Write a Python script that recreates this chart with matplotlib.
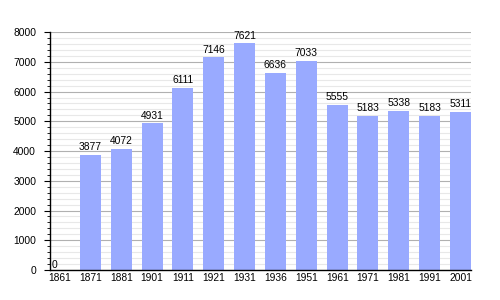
import matplotlib
matplotlib.use("Agg")
import matplotlib.pyplot as plt
from matplotlib.ticker import MultipleLocator

plt.rcParams['font.family'] = ['Liberation Sans', 'DejaVu Sans']

# Einwohner je Zaehlungsjahr
jahre = ['1861', '1871', '1881', '1901', '1911', '1921', '1931',
         '1936', '1951', '1961', '1971', '1981', '1991', '2001']
einwohner = [0, 3877, 4072, 4931, 6111, 7146, 7621,
             6636, 7033, 5555, 5183, 5338, 5183, 5311]

fig = plt.figure(figsize=(5, 3), dpi=100)
ax = fig.add_axes([0.1, 0.1, 0.842, 0.793])

x = range(len(jahre))
ax.bar(x, einwohner, width=0.68, color='#99aaff', zorder=2)

for i, v in enumerate(einwohner):
    if v == 0:
        ax.annotate(str(v), (-0.31, v), xytext=(1, 0), textcoords='offset points',
                    ha='left', va='bottom', fontsize=7.4)
    else:
        ax.annotate(str(v), (i, v), xytext=(0, 2), textcoords='offset points',
                    ha='center', va='bottom', fontsize=7.4)

ax.set_xlim(-0.31, 13.34)
ax.set_ylim(0, 8000)
ax.set_xticks(list(x))
ax.set_xticklabels(jahre)
ax.yaxis.set_major_locator(MultipleLocator(1000))
ax.yaxis.set_minor_locator(MultipleLocator(200))
ax.grid(axis='y', which='major', color='#b0b0b0', linewidth=0.8, zorder=0)
ax.grid(axis='y', which='minor', color='#e8e8e8', linewidth=0.8, zorder=0)
ax.set_axisbelow(True)

for s in ['top', 'right']:
    ax.spines[s].set_visible(False)
ax.spines['left'].set_linewidth(1)
ax.spines['bottom'].set_linewidth(1)

ax.tick_params(axis='x', length=0, pad=2, labelsize=7.4)
ax.tick_params(axis='y', which='major', length=4, pad=6, labelsize=7.4)
ax.tick_params(axis='y', which='minor', length=2.5)

plt.savefig('out.png', dpi=100)
